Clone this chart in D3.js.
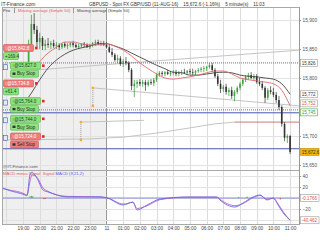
<!DOCTYPE html>
<html>
<head>
<meta charset="utf-8">
<script src="https://cdnjs.cloudflare.com/ajax/libs/d3/7.8.5/d3.min.js"></script>
<style>
  body { margin: 0; background: #fff; }
  svg { display: block; font-family: "Liberation Sans", Arial, sans-serif; }
</style>
</head>
<body>
<svg id="chart" width="320" height="240"></svg>
<script>
// 10 minute candles, first one at 10-AUG 19:20
var firstCandle = "10 19:20";
var opens = [
  15828,15859,15893,15883,15862,15869,15855,15859,15857,15860,
  15855,15857,15853,15859,15855,15857,15860,15857,15853,15855,
  15859,15857,15853,15857,15860,15862,15859,15860,
  15857,15853,15845,15840,15831,15834,15824,15829,15826,15814,
  15786,15790,15793,15790,15793,15788,15793,15791,15797,15805,
  15809,15807,15810,15807,15809,15810,15807,15809,15810,15809,
  15812,15810,15809,15812,15814,15816,15817,15819,15822,15814,
  15803,15790,15781,15785,15776,15779,15769,15776,15783,15790,
  15797,15802,15805,15800,15803,15793,15790,15783,15766,15779,
  15776,15771,15762,15750,15721,15697,15700];
var highs = [
  15866,15909,15912,15890,15878,15872,15866,15869,15864,15866,
  15862,15860,15860,15862,15860,15862,15864,15860,15859,15860,
  15862,15860,15859,15862,15866,15866,15864,15864,
  15862,15857,15852,15843,15840,15838,15833,15836,15829,15817,
  15797,15797,15798,15797,15797,15797,15798,15800,15809,15812,
  15812,15812,15814,15812,15814,15814,15812,15814,15816,15814,
  15816,15816,15814,15817,15819,15821,15821,15826,15826,15817,
  15807,15797,15788,15790,15783,15785,15779,15786,15793,15800,
  15805,15809,15810,15807,15807,15800,15795,15786,15783,15786,
  15783,15776,15769,15753,15724,15703,15702];
var lows = [
  15824,15855,15876,15853,15850,15848,15848,15852,15850,15852,
  15850,15848,15850,15852,15850,15853,15853,15852,15850,15852,
  15853,15852,15850,15853,15855,15857,15855,15855,
  15852,15843,15836,15828,15826,15821,15819,15822,15810,15779,
  15767,15783,15786,15785,15778,15785,15788,15786,15793,15802,
  15803,15803,15805,15803,15805,15803,15803,15805,15807,15805,
  15807,15805,15805,15809,15810,15810,15812,15816,15810,15800,
  15786,15774,15776,15771,15769,15764,15760,15772,15779,15786,
  15793,15797,15798,15795,15790,15786,15779,15757,15762,15772,
  15767,15757,15745,15716,15691,15688,15669];
var closes = [
  15859,15893,15883,15862,15869,15855,15859,15857,15860,15855,
  15857,15853,15859,15855,15857,15860,15857,15853,15855,15859,
  15857,15853,15857,15860,15862,15859,15860,15857,
  15853,15845,15840,15831,15834,15824,15829,15826,15814,15786,
  15790,15793,15790,15793,15788,15793,15791,15797,15805,15809,
  15807,15810,15807,15809,15810,15807,15809,15810,15809,15812,
  15810,15809,15812,15814,15816,15817,15819,15822,15814,15803,
  15790,15781,15785,15776,15779,15769,15776,15783,15790,15797,
  15802,15805,15800,15803,15793,15790,15783,15766,15779,15776,
  15771,15762,15750,15721,15697,15700,15672.6];

var redMaTimes = ["10 19:50","10 20:00","10 20:30","10 21:00","10 21:30","10 22:00","10 22:30","10 23:00","10 23:30",
  "11 00:00","11 00:30","11 01:00","11 01:30","11 02:00","11 02:30","11 03:00","11 03:30","11 04:00","11 04:30",
  "11 05:00","11 05:30","11 06:00","11 06:30","11 07:00","11 07:30","11 08:00","11 08:30","11 09:00","11 09:30",
  "11 10:00","11 10:30","11 11:00"];
var redMa = [15821,15828,15843,15853,15862,15862,15859,15857,15857,
  15859,15855,15848,15838,15826,15816,15807,15800,15798,15800,
  15802,15805,15809,15812,15812,15807,15800,15797,15795,15793,
  15790,15779,15752];
var blackMaTimes = ["10 19:20","10 19:30","10 20:00","10 20:30","10 21:00","10 21:30","10 22:00","10 22:30","10 23:00","10 23:30",
  "11 00:00","11 00:30","11 01:00","11 01:30","11 02:00","11 02:30","11 03:00","11 03:30","11 04:00","11 04:30",
  "11 05:00","11 05:30","11 06:00","11 06:30","11 07:00","11 07:30","11 08:00","11 08:30","11 09:00","11 09:30",
  "11 10:00","11 10:30","11 11:00"];
var blackMa = [15767,15774,15797,15817,15831,15841,15848,15852,15855,15859,
  15859,15855,15850,15843,15836,15829,15822,15816,15810,15809,
  15805,15805,15807,15809,15810,15809,15805,15803,15802,15800,
  15798,15790,15772];

// drawn objects on the price panel
var grayLines = [
  [["10 19:50",15814],["11 11:32",15848]],
  [["10 23:11",15783],["11 11:32",15752]],
  [["10 22:28",15724],["11 02:15",15727]],
  [["10 17:48",15693],["10 23:00",15695],["11 01:00",15698],["11 03:00",15705],["11 05:00",15714],["11 06:30",15721],["11 07:40",15724]]
];
var redLine = [["11 07:40",15724],["11 11:32",15724]];
var greenLevels = [15826, 15745];
var blueLevels = [15740, 15678];
var markers = [
  [["10 23:11",15783],["10 23:11",15752]],
  [["10 22:28",15724],["10 22:28",15693]]
];

var orderTexts = ["\u2191@15,842.8","\u2191@15,827.0","\u2191@15,734.8","\u2191@15,764.0","\u2191@15,744.0","\u2191@15,724.0"];
var orderSubs = ["+169.4","Buy Stop","+61.4","Buy Stop","Buy Stop","Sell Stop"];
var orderKinds = ["position","buy","position","buy","buy","sell"];

var priceTicks = [15650,15700,15750,15800,15850,15900];
var priceTickLabels = [15650,15700,15800,15850,15900];
var priceBoxValues = [15826,15772,15752,15745,15672.6];
var priceBoxTexts = ["15,826","15,772","15,752","15,745","15,672.6"];
var priceBoxKinds = ["plain","plain","red","green","last"];

var macdTimes = ["10 17:48","10 18:06","10 19:07","10 19:14","10 19:25","10 19:32","10 19:50","10 20:12","10 20:30","10 21:38","10 23:37",
  "11 00:02","11 01:00","11 01:35","11 01:50","11 02:26","11 03:13","11 04:50","11 06:37","11 06:48","11 07:42","11 08:11",
  "11 08:47","11 09:12","11 09:37","11 09:59","11 10:17","11 10:35","11 11:00"];
var macdValues = [18,14.5,5.5,4,42,47,36,14.5,11,2,2,0,-12.7,-7.3,-21.8,-12.7,-1.8,1.8,1.8,-3.6,-16.4,-9,1.8,5.5,-3.6,0,-12.7,-27,-40.5];
var signalValues = [17,15,7,5,30,42,38,18,12,3,2,0.5,-11,-8,-19,-14,-3,1.5,1.5,-2.5,-14,-10,0.5,4.5,-2,-0.5,-11,-25,-40.5];
var histTimes = ["10 19:25","10 19:30","10 19:35","10 20:15","10 20:20","11 07:55","11 08:25","11 10:25"];
var histValues = [3,4,3,-2,-1.5,2,2.5,-2.5];
var macdTicks = [-40,-20,0,20,40];
var macdTickLabels = [-20,20,40];
var macdBoxValues = [-0.1766,-40.462];
var macdBoxTexts = ["-0.1766","-40.462"];

var timeLabels = ["19:00","20:00","21:00","22:00","23:00","11","01:00","02:00","03:00","04:00","05:00","06:00","07:00","08:00","09:00","10:00","11:00"];

var parseT = d3.timeParse("%d %H:%M");
var fs = 4.6;

var svg = d3.select("#chart");
svg.append("rect").attr("width", 320).attr("height", 240).attr("fill", "#fff");

var pLeft = 3, pRight = 299, pTop = 7, pMid = 170, pBottom = 224;

var x = d3.scaleTime().domain([parseT("10 17:48"), parseT("11 11:32")]).range([pLeft, pRight]);
var y = d3.scaleLinear().domain([15650, 15900]).range([165, 20]);
var ym = d3.scaleLinear().domain([-40, 40]).range([220, 176]);

// header
svg.append("text").attr("x", 1).attr("y", 6).attr("font-size", 5).attr("fill", "#333").text("IT-Finance.com");
svg.append("text").attr("x", 89).attr("y", 6).attr("font-size", fs).attr("fill", "#333")
  .attr("xml:space", "preserve")
  .text("GBPUSD - Spot FX GBP/USD (11-AUG-16)    15,672.6 (-1.16%)    5 minute(s)    11:03");

// previous day shading
var midnight = parseT("11 00:00");
svg.append("rect").attr("x", pLeft).attr("y", pTop).attr("width", x(midnight) - pLeft).attr("height", pBottom - pTop).attr("fill", "#efefef");

// vertical grid
var hours = d3.timeHour.range(parseT("10 18:00"), parseT("11 11:01"));
svg.append("g").selectAll("line").data(hours).enter().append("line")
  .attr("x1", function(d) { return Math.round(x(d)) + 0.5; })
  .attr("x2", function(d) { return Math.round(x(d)) + 0.5; })
  .attr("y1", pTop).attr("y2", pBottom)
  .attr("stroke", function(d) { return d.getHours() === 0 ? "#9a9a9a" : "#dcdcdc"; })
  .attr("stroke-width", 1);

// horizontal grid
svg.append("g").selectAll("line").data(priceTicks).enter().append("line")
  .attr("x1", pLeft).attr("x2", pRight)
  .attr("y1", function(d) { return Math.round(y(d)) + 0.5; })
  .attr("y2", function(d) { return Math.round(y(d)) + 0.5; })
  .attr("stroke", "#e2e2e2");
svg.append("g").selectAll("line").data(macdTicks).enter().append("line")
  .attr("x1", pLeft).attr("x2", pRight)
  .attr("y1", function(d) { return Math.round(ym(d)) + 0.5; })
  .attr("y2", function(d) { return Math.round(ym(d)) + 0.5; })
  .attr("stroke", "#e2e2e2");

// panel frames
svg.append("rect").attr("x", pLeft - 0.5).attr("y", pTop + 0.5).attr("width", pRight - pLeft + 1).attr("height", pMid - pTop)
  .attr("fill", "none").attr("stroke", "#a8a8a8");
svg.append("rect").attr("x", pLeft - 0.5).attr("y", pMid + 0.5).attr("width", pRight - pLeft + 1).attr("height", pBottom - pMid)
  .attr("fill", "none").attr("stroke", "#a8a8a8");

svg.append("clipPath").attr("id", "clipMain").append("rect")
  .attr("x", pLeft).attr("y", pTop + 1).attr("width", pRight - pLeft).attr("height", pMid - pTop - 1);
svg.append("clipPath").attr("id", "clipMacd").append("rect")
  .attr("x", pLeft).attr("y", pMid + 1).attr("width", pRight - pLeft).attr("height", pBottom - pMid - 1);

var g = svg.append("g").attr("clip-path", "url(#clipMain)");

var line = d3.line()
  .x(function(d) { return x(parseT(d[0])); })
  .y(function(d) { return y(d[1]); });

// drawn lines
g.selectAll(".gray").data(grayLines).enter().append("path")
  .attr("d", line).attr("fill", "none").attr("stroke", "#bdbdbd").attr("stroke-width", 0.9);
g.append("path").attr("d", line(redLine)).attr("fill", "none").attr("stroke", "#c26a6a").attr("stroke-width", 0.9);

g.selectAll(".glev").data(greenLevels).enter().append("line")
  .attr("x1", pLeft).attr("x2", pRight)
  .attr("y1", function(d) { return y(d); }).attr("y2", function(d) { return y(d); })
  .attr("stroke", "#3a9a3a").attr("stroke-dasharray", "1,1").attr("stroke-width", 1);
g.selectAll(".blev").data(blueLevels).enter().append("line")
  .attr("x1", pLeft).attr("x2", pRight)
  .attr("y1", function(d) { return y(d); }).attr("y2", function(d) { return y(d); })
  .attr("stroke", "#4856b0").attr("stroke-width", 1);

markers.forEach(function(m) {
  g.append("path").attr("d", line(m)).attr("stroke", "#999").attr("stroke-dasharray", "1,1").attr("fill", "none");
  g.selectAll(null).data(m).enter().append("rect")
    .attr("x", function(d) { return x(parseT(d[0])) - 1.2; })
    .attr("y", function(d) { return y(d[1]) - 1.2; })
    .attr("width", 2.4).attr("height", 2.4).attr("fill", "#f0b030");
});

// candles
var t0 = parseT(firstCandle);
var idx = d3.range(closes.length);
function cx(i) { return x(d3.timeMinute.offset(t0, 10 * i)); }
g.selectAll(".wick").data(idx).enter().append("line")
  .attr("x1", cx).attr("x2", cx)
  .attr("y1", function(i) { return y(highs[i]); })
  .attr("y2", function(i) { return y(lows[i]); })
  .attr("stroke", function(i) { return closes[i] >= opens[i] ? "#2f8f2f" : "#333"; })
  .attr("stroke-width", 0.7);
g.selectAll(".body").data(idx).enter().append("rect")
  .attr("x", function(i) { return cx(i) - 0.8; })
  .attr("width", 1.6)
  .attr("y", function(i) { return y(Math.max(opens[i], closes[i])); })
  .attr("height", function(i) { return Math.max(0.7, Math.abs(y(opens[i]) - y(closes[i]))); })
  .attr("fill", function(i) { return closes[i] >= opens[i] ? "#3aa53a" : "#333"; });

// moving averages
var curve = d3.line().curve(d3.curveMonotoneX)
  .x(function(d) { return x(parseT(d[0])); })
  .y(function(d) { return y(d[1]); });
g.append("path").attr("d", curve(d3.zip(blackMaTimes, blackMa)))
  .attr("fill", "none").attr("stroke", "#444").attr("stroke-width", 0.9);
g.append("path").attr("d", curve(d3.zip(redMaTimes, redMa)))
  .attr("fill", "none").attr("stroke", "#e06a6a").attr("stroke-width", 0.9);

// legend row
var leg = svg.append("g").attr("font-size", 4.2);
leg.append("text").attr("x", 3).attr("y", 12).attr("fill", "#333").text("Prix");
leg.append("text").attr("x", 18).attr("y", 12).attr("fill", "#e06060").text("Moving average (Simple 50)");
leg.append("text").attr("x", 77).attr("y", 12).attr("fill", "#444").text("Moving average (Simple 50)");
[14.5, 73.5].forEach(function(sx) {
  leg.append("line").attr("x1", sx).attr("x2", sx).attr("y1", 8).attr("y2", 13).attr("stroke", "#999");
});

// order labels
var og = svg.append("g").attr("font-size", 4.5);
orderTexts.forEach(function(t, i) {
  var yy = 48 + 17.7 * i;
  var kind = orderKinds[i];
  var bx = kind === "position" ? 3 : 10;
  var red = kind !== "buy";
  if (kind !== "position") {
    og.append("rect").attr("x", 3.5).attr("y", yy - 1).attr("width", 4).attr("height", 5)
      .attr("fill", "#e4ecff").attr("stroke", "#3a5ad0").attr("stroke-width", 0.6);
  }
  og.append("rect").attr("x", bx + 0.5).attr("y", yy - 3.5).attr("width", 30).attr("height", 7).attr("rx", 1)
    .attr("fill", red ? "#f07c7c" : "#8fe27f").attr("stroke", red ? "#d25050" : "#52b044").attr("stroke-width", 0.6);
  og.append("text").attr("x", bx + 2).attr("y", yy + 1.7).attr("fill", red ? "#fff" : "#1d3d1d").text(t);
  og.append("rect").attr("x", bx + 32).attr("y", yy - 1.3).attr("width", 2.6).attr("height", 2.6).attr("fill", "#e02828");

  var sy = yy + 8;
  var sw = kind === "position" ? 15 : 28;
  var sred = kind === "sell";
  og.append("rect").attr("x", bx + 0.5).attr("y", sy - 3.5).attr("width", sw).attr("height", 7).attr("rx", 1)
    .attr("fill", sred ? "#f07c7c" : "#8fe27f").attr("stroke", sred ? "#d25050" : "#52b044").attr("stroke-width", 0.6);
  if (kind !== "position") {
    og.append("rect").attr("x", bx + 2.5).attr("y", sy - 1.2).attr("width", 3).attr("height", 2.4).attr("fill", "#333");
    og.append("text").attr("x", bx + 7).attr("y", sy + 1.7).attr("fill", "#222").text(orderSubs[i]);
  } else {
    og.append("text").attr("x", bx + 2).attr("y", sy + 1.7).attr("fill", "#1d3d1d").text(orderSubs[i]);
  }
});

// watermark and MACD legend
svg.append("text").attr("x", 3).attr("y", 167.5).attr("font-size", 4.4).attr("fill", "#555").text("@IT-Finance.com");
var ml = svg.append("text").attr("x", 3).attr("y", 175).attr("font-size", 4.2).attr("xml:space", "preserve");
ml.append("tspan").attr("fill", "#e05a5a").text("MACD minus Signal  Signal ");
ml.append("tspan").attr("fill", "#5a5ad8").text("MACD (9,21,2)");

// right price axis
var ya = svg.append("g").attr("transform", "translate(" + pRight + ",0)")
  .call(d3.axisRight(y).tickValues(priceTickLabels).tickSize(2).tickPadding(1.5).tickFormat(d3.format(",")));
ya.select(".domain").remove();
ya.selectAll("text").attr("font-size", 4.8).attr("fill", "#555").attr("font-family", "Liberation Sans, Arial, sans-serif");
ya.selectAll("line").attr("stroke", "#999");

var ma = svg.append("g").attr("transform", "translate(" + pRight + ",0)")
  .call(d3.axisRight(ym).tickValues(macdTickLabels).tickSize(2).tickPadding(1.5).tickFormat(d3.format("d")));
ma.select(".domain").remove();
ma.selectAll("text").attr("font-size", 4.8).attr("fill", "#555").attr("font-family", "Liberation Sans, Arial, sans-serif");
ma.selectAll("line").attr("stroke", "#999");

svg.append("line").attr("x1", pRight + 0.5).attr("x2", pRight + 0.5).attr("y1", pTop).attr("y2", pBottom).attr("stroke", "#999");

// MACD panel
var mg = svg.append("g").attr("clip-path", "url(#clipMacd)");
mg.append("line").attr("x1", pLeft).attr("x2", pRight).attr("y1", ym(0)).attr("y2", ym(0))
  .attr("stroke", "#7a80d8").attr("stroke-width", 0.9);
mg.selectAll(".hist").data(d3.range(histValues.length)).enter().append("rect")
  .attr("x", function(i) { return x(parseT(histTimes[i])) - 0.7; })
  .attr("width", 1.4)
  .attr("y", function(i) { return Math.min(ym(0), ym(histValues[i])); })
  .attr("height", function(i) { return Math.abs(ym(histValues[i]) - ym(0)); })
  .attr("fill", function(i) { return histValues[i] >= 0 ? "#56c456" : "#e05050"; });
var mline = d3.line().curve(d3.curveMonotoneX)
  .x(function(d) { return x(parseT(d[0])); })
  .y(function(d) { return ym(d[1]); });
mg.append("path").attr("d", mline(d3.zip(macdTimes, signalValues)))
  .attr("fill", "none").attr("stroke", "#c060c0").attr("stroke-width", 0.9);
mg.append("path").attr("d", mline(d3.zip(macdTimes, macdValues)))
  .attr("fill", "none").attr("stroke", "#6a6ae0").attr("stroke-width", 0.9);

// right value boxes, pushed apart when they collide
function boxes(vals, texts, kinds, scale) {
  var ys = vals.map(function(v) { return scale(v); });
  for (var k = 0; k < 3; k++) {
    for (var i = 1; i < ys.length; i++) {
      if (ys[i] - ys[i - 1] < 9) {
        var m = (ys[i] + ys[i - 1]) / 2;
        ys[i - 1] = m - 4.5; ys[i] = m + 4.5;
      }
    }
  }
  texts.forEach(function(t, i) {
    var kind = kinds[i];
    var fill = kind === "last" ? "#f4b400" : "#fff";
    var stroke = kind === "last" ? "#c48a00" : (kind === "green" ? "#4aa64a" : "#9a9a9a");
    var col = kind === "red" ? "#e05050" : (kind === "green" ? "#3a9a3a" : "#333");
    svg.append("rect").attr("x", 300.5).attr("y", ys[i] - 3.5).attr("width", t.length > 6 ? 18.5 : 17).attr("height", 7)
      .attr("fill", fill).attr("stroke", stroke).attr("stroke-width", 0.6);
    svg.append("text").attr("x", 301.8).attr("y", ys[i] + 1.7).attr("font-size", 4.5).attr("fill", col).text(t);
  });
}
boxes(priceBoxValues, priceBoxTexts, priceBoxKinds, y);
boxes(macdBoxValues, macdBoxTexts, ["red", "red"], ym);

// time axis
var tickDates = d3.timeHour.range(parseT("10 19:00"), parseT("11 11:01"));
var xa = svg.append("g").attr("transform", "translate(0," + pBottom + ")")
  .call(d3.axisBottom(x).tickValues(tickDates).tickSize(0).tickPadding(3)
    .tickFormat(function(d, i) { return timeLabels[i]; }));
xa.select(".domain").remove();
xa.selectAll("text").attr("font-size", 4.8).attr("fill", "#444").attr("font-family", "Liberation Sans, Arial, sans-serif");
</script>
</body>
</html>
